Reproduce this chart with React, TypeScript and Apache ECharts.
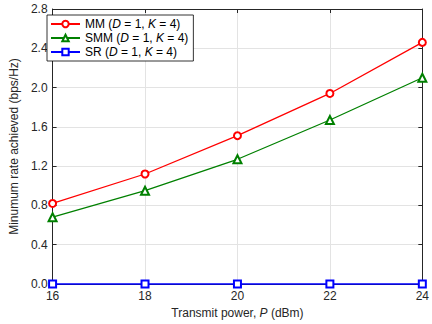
import React, { useEffect, useRef } from "react";
import * as echarts from "echarts";

const powers = [16, 18, 20, 22, 24];
const mmValues = [0.82, 1.12, 1.51, 1.94, 2.46];
const smmValues = [0.68, 0.95, 1.27, 1.67, 2.1];
const srValues = [0, 0, 0, 0, 0];
const seriesNames = ["MM", "SMM", "SR"];
const seriesColors = ["#ff0000", "#008000", "#0000ff"];
const seriesSymbols = ["emptyCircle", "emptyTriangle", "emptyRect"];

const FONT = "Liberation Sans, Arial, sans-serif";

export default function App() {
  const ref = useRef<HTMLDivElement>(null);
  useEffect(() => {
    if (!ref.current) return;
    const chart = echarts.init(ref.current, null, { renderer: "svg" });
    const allData = [mmValues, smmValues, srValues];
    const axisLineStyle = { color: "#262626", width: 1 };
    const option: any = {
      animation: false,
      backgroundColor: "#ffffff",
      textStyle: { fontFamily: FONT },
      grid: { left: 40, right: 7, top: 9, bottom: 35, containLabel: false },
      legend: {
        orient: "vertical",
        left: 47,
        top: 15,
        itemWidth: 29,
        itemHeight: 8,
        itemGap: 0,
        padding: [2, 5, 2, 3],
        borderColor: "#000000",
        borderWidth: 0.8,
        backgroundColor: "#ffffff",
        data: seriesNames,
        formatter: (name: string) => `${name} ({i|D} = 1, {i|K} = 4)`,
        textStyle: {
          fontFamily: FONT,
          fontSize: 12,
          lineHeight: 14,
          color: "#000000",
          rich: { i: { fontStyle: "italic", fontFamily: FONT, fontSize: 12, lineHeight: 14, color: "#000000" } },
        },
      },
      xAxis: [
        {
          type: "value",
          min: 16,
          max: 24,
          interval: 2,
          position: "bottom",
          name: "Transmit power, {i|P} (dBm)",
          nameLocation: "middle",
          nameGap: 23,
          nameTextStyle: {
            fontFamily: FONT,
            fontSize: 12,
            color: "#262626",
            rich: { i: { fontStyle: "italic", fontFamily: FONT, fontSize: 12, color: "#262626" } },
          },
          axisLine: { show: true, onZero: false, lineStyle: axisLineStyle },
          axisTick: { show: true, inside: true, length: 4, lineStyle: axisLineStyle },
          axisLabel: { fontFamily: FONT, fontSize: 12, color: "#262626", margin: 6 },
          splitLine: { show: true, lineStyle: { color: "#e3e3e3", width: 1 } },
        },
        {
          type: "value",
          min: 16,
          max: 24,
          interval: 2,
          position: "top",
          axisLine: { show: true, onZero: false, lineStyle: axisLineStyle },
          axisTick: { show: true, inside: true, length: 4, lineStyle: axisLineStyle },
          axisLabel: { show: false },
          splitLine: { show: false },
        },
      ],
      yAxis: [
        {
          type: "value",
          min: 0,
          max: 2.8,
          interval: 0.4,
          position: "left",
          name: "Minumum rate achieved (bps/Hz)",
          nameLocation: "middle",
          nameGap: 30,
          nameTextStyle: { fontFamily: FONT, fontSize: 12, color: "#262626" },
          axisLine: { show: true, onZero: false, lineStyle: axisLineStyle },
          axisTick: { show: true, inside: true, length: 4, lineStyle: axisLineStyle },
          axisLabel: {
            fontFamily: FONT,
            fontSize: 12,
            color: "#262626",
            margin: 5,
            formatter: (v: number) => v.toFixed(1),
          },
          splitLine: { show: true, lineStyle: { color: "#e3e3e3", width: 1 } },
        },
        {
          type: "value",
          min: 0,
          max: 2.8,
          interval: 0.4,
          position: "right",
          axisLine: { show: true, onZero: false, lineStyle: axisLineStyle },
          axisTick: { show: true, inside: true, length: 4, lineStyle: axisLineStyle },
          axisLabel: { show: false },
          splitLine: { show: false },
        },
      ],
      series: seriesNames.map((name, idx) => ({
        name,
        type: "line",
        xAxisIndex: 0,
        yAxisIndex: 0,
        data: powers.map((p, i) => [p, allData[idx][i]]),
        symbol: seriesSymbols[idx],
        symbolSize: idx === 1 ? 8 : 7,
        color: seriesColors[idx],
        lineStyle: { color: seriesColors[idx], width: 1.3 },
        itemStyle: { color: seriesColors[idx], borderColor: seriesColors[idx], borderWidth: 1.3 },
        clip: false,
        z: 3 + idx,
      })),
    };
    chart.setOption(option);
    return () => chart.dispose();
  }, []);
  return <div ref={ref} style={{ width: 432, height: 324, position: "absolute", left: 0, top: 0 }} />;
}
